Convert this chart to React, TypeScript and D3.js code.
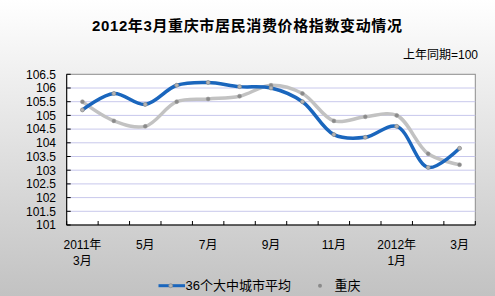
import React from "react";
import * as d3 from "d3";

const categories = ["2011-3","2011-4","2011-5","2011-6","2011-7","2011-8","2011-9","2011-10","2011-11","2011-12","2012-1","2012-2","2012-3"];
const tickLabels: Record<string, string[]> = {
  "2011-3": ["2011年", "3月"],
  "2011-5": ["5月"],
  "2011-7": ["7月"],
  "2011-9": ["9月"],
  "2011-11": ["11月"],
  "2012-1": ["2012年", "1月"],
  "2012-3": ["3月"],
};
const avg36 = [105.2, 105.8, 105.4, 106.1, 106.2, 106.05, 106.0, 105.5, 104.3, 104.2, 104.6, 103.1, 103.8];
const chongqing = [105.5, 104.8, 104.6, 105.5, 105.6, 105.7, 106.1, 105.8, 104.8, 104.95, 105.0, 103.6, 103.2];
const yTicks = [101, 101.5, 102, 102.5, 103, 103.5, 104, 104.5, 105, 105.5, 106, 106.5];
const seriesNames = ["36个大中城市平均", "重庆"];

const W = 495, H = 296;
const L = 66.7, R = 475.3, T = 74.3, B = 225;
const BLUE = "#1a66bd";
const GRAY = "#c2c2c2";
const FONT = "'Liberation Sans', Arial, 'Noto Sans CJK SC', sans-serif";

export default function App() {
  const x = d3.scaleBand<string>().domain(categories).range([L, R]).padding(0);
  const y = d3.scaleLinear().domain([101, 106.5]).range([B, T]);
  const cx = (c: string) => (x(c) as number) + x.bandwidth() / 2;
  const line = d3.line<number>()
    .x((_, i) => cx(categories[i]))
    .y((d) => y(d))
    .curve(d3.curveCatmullRom.alpha(0.5));

  return (
    <svg width={W} height={H} style={{ position: "fixed", left: 0, top: 0 }} fontFamily={FONT}>
      <defs>
        <linearGradient id="bg" x1="0" y1="0" x2="0" y2="1">
          <stop offset="0" stopColor="#ffffff" />
          <stop offset="1" stopColor="#c2c2c2" />
        </linearGradient>
      </defs>
      <rect x={0} y={0} width={W} height={H} fill="url(#bg)" />
      <text x={247} y={30.5} textAnchor="middle" fontSize={15} fontWeight="bold" textLength={310} lengthAdjust="spacing" fill="#000">
        2012年3月重庆市居民消费价格指数变动情况
      </text>
      <text x={478} y={59} textAnchor="end" fontSize={12} fill="#000">上年同期=100</text>

      <rect x={L} y={T} width={R - L} height={B - T} fill="#ffffff" stroke="#8c8c8c" strokeWidth={1} />
      {yTicks.filter((t) => t > 101 && t < 106.5).map((t) => (
        <line key={t} x1={L} x2={R} y1={y(t)} y2={y(t)} stroke="#c8c8ec" strokeWidth={1} />
      ))}
      <line x1={L} x2={L} y1={T} y2={B} stroke="#000" />
      <line x1={L} x2={R} y1={B} y2={B} stroke="#000" />
      {yTicks.map((t) => (
        <g key={t}>
          <line x1={L} x2={L + 4} y1={y(t)} y2={y(t)} stroke="#000" />
          <text x={56} y={y(t)} dy="0.36em" textAnchor="end" fontSize={12} fill="#000">{t}</text>
        </g>
      ))}
      {categories.map((c) => (
        <line key={c} x1={x(c) as number} x2={x(c) as number} y1={B} y2={B - 4} stroke="#000" />
      ))}
      <line x1={R} x2={R} y1={B} y2={B - 4} stroke="#000" />
      {categories.map((c) =>
        tickLabels[c] ? (
          <text key={c} x={cx(c)} y={249} textAnchor="middle" fontSize={12} fill="#000">
            {tickLabels[c].map((s, i) => (
              <tspan key={i} x={cx(c)} y={249 + i * 16}>{s}</tspan>
            ))}
          </text>
        ) : null
      )}

      <path d={line(chongqing) || ""} fill="none" stroke={GRAY} strokeWidth={3.5} />
      <path d={line(avg36) || ""} fill="none" stroke={BLUE} strokeWidth={3.5} />
      {chongqing.map((v, i) => (
        <circle key={"c" + i} cx={cx(categories[i])} cy={y(v)} r={2} fill="#8a8a8a" stroke="#9a9a9a" strokeWidth={0.5} />
      ))}
      {avg36.map((v, i) => (
        <circle key={"a" + i} cx={cx(categories[i])} cy={y(v)} r={2} fill="#b4b4b4" stroke="#8a8a8a" strokeWidth={0.7} />
      ))}

      <line x1={158.5} x2={185} y1={285.7} y2={285.7} stroke={BLUE} strokeWidth={3} />
      <circle cx={170.7} cy={285.7} r={2} fill="#b4b4b4" stroke="#8a8a8a" strokeWidth={0.7} />
      <text x={185.5} y={290} fontSize={13} fill="#000">{seriesNames[0]}</text>
      <circle cx={320} cy={285.7} r={2} fill="#8a8a8a" />
      <text x={334.5} y={290} fontSize={13} fill="#000">{seriesNames[1]}</text>
    </svg>
  );
}
